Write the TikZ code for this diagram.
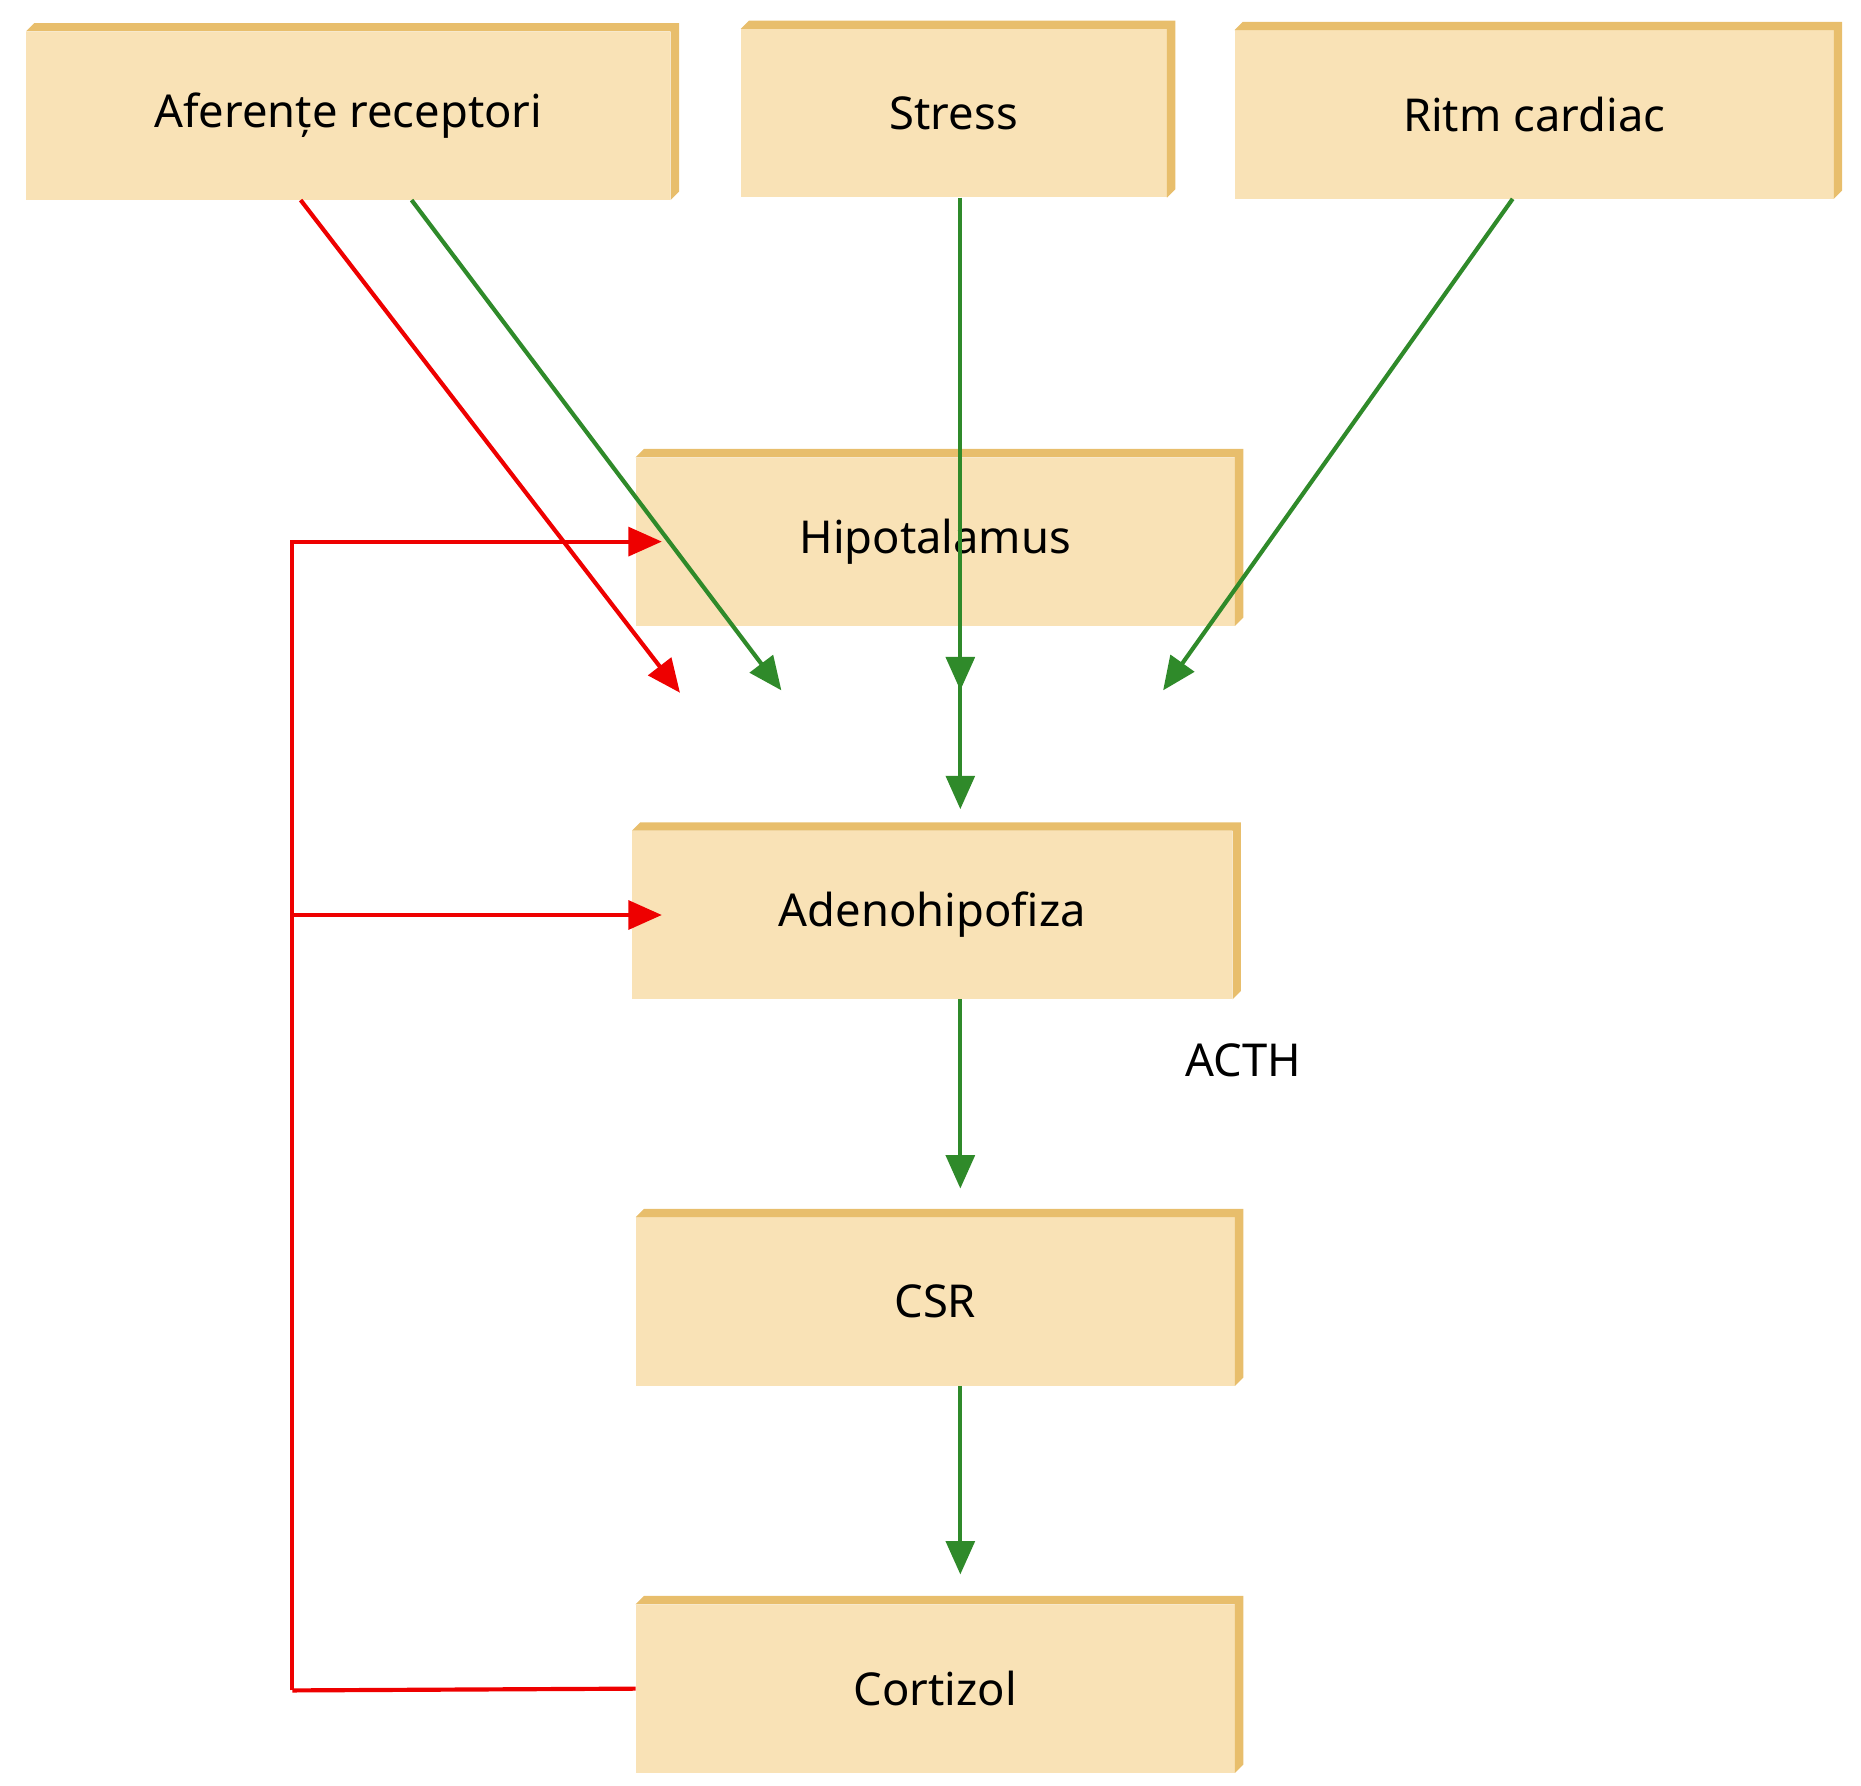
\documentclass[tikz,border=0pt]{standalone}
\usepackage{fontspec}
\setmainfont{Noto Sans}
\usetikzlibrary{arrows.meta, calc}
\definecolor{boxfill}{HTML}{F9E2B6}
\definecolor{boxside}{HTML}{E8BE6C}
\definecolor{stim}{HTML}{2F8A2A}
\definecolor{inhib}{HTML}{EE0000}
\tikzset{
	block/.style={fill=boxfill, inner sep=0pt, minimum height=141pt, font=\fontsize{38}{44}\selectfont},
	green arrow/.style={draw=stim, line width=3.5pt, -{Triangle[length=28pt,width=24pt]}},
	red arrow/.style={draw=inhib, line width=3.5pt, -{Triangle[length=28pt,width=24pt]}},
	red line/.style={draw=inhib, line width=3.5pt}
}
\begin{document}
\begin{tikzpicture}[x=1pt, y=-1pt]
	\useasboundingbox (0,0) rectangle (1560,1497);
	\node (afer)[block, minimum width=540pt] at (292, 97) {Aferențe receptori};
	\node (stress)[block, minimum width=357pt] at (799.5, 95) {Stress};
	\node (ritm)[block, minimum width=502pt] at (1286, 96) {Ritm cardiac};
	\node (hipo)[block, minimum width=502pt] at (784, 454) {Hipotalamus};
	\node (adeno)[block, minimum width=503pt] at (781.5, 767) {Adenohipofiza};
	\node (csr)[block, minimum width=502pt] at (784, 1091) {CSR};
	\node (cort)[block, minimum width=502pt] at (784, 1415.5) {Cortizol};
	\node (acth)[font=\fontsize{38}{44}\selectfont] at (1042, 889) {ACTH};

	% 3d edges of the boxes
	\foreach \n in {afer, stress, ritm, hipo, adeno, csr, cort}
		\fill[boxside] (\n.north west) -- ($(\n.north west)+(7,-7)$) -- ($(\n.north east)+(7,-7)$)
			-- ($(\n.south east)+(7,-7)$) -- (\n.south east) -- (\n.north east) -- cycle;

	% inputs
	\draw[red arrow] ([xshift=-40pt]afer.south) -- ([xshift=-214pt,yshift=-56pt]hipo.south);
	\draw[green arrow] ([xshift=53pt]afer.south) -- ([xshift=-129pt,yshift=-54pt]hipo.south);
	\draw[green arrow] ([xshift=5.5pt]stress.south) -- ([xshift=21pt,yshift=-54pt]hipo.south);
	\draw[green arrow] ([xshift=-18pt]ritm.south) -- ([xshift=191pt,yshift=-54pt]hipo.south);

	% axis
	\draw[green arrow] ([xshift=21pt]hipo.south) -- ([xshift=23.5pt,yshift=18pt]adeno.north);
	\draw[green arrow] ([xshift=23.5pt]adeno.south) -- ([xshift=21pt,yshift=24pt]csr.north);
	\draw[green arrow] ([xshift=21pt]csr.south) -- ([xshift=21pt,yshift=25pt]cort.north);

	% feedback
	\coordinate (fb) at (245, 1417);
	\draw[red line] (cort.west) -- (fb);
	\draw[red arrow] (fb) |- ([xshift=22pt]hipo.west);
	\draw[red arrow] (fb |- adeno.west) -- ([xshift=25pt]adeno.west);
\end{tikzpicture}
\end{document}
